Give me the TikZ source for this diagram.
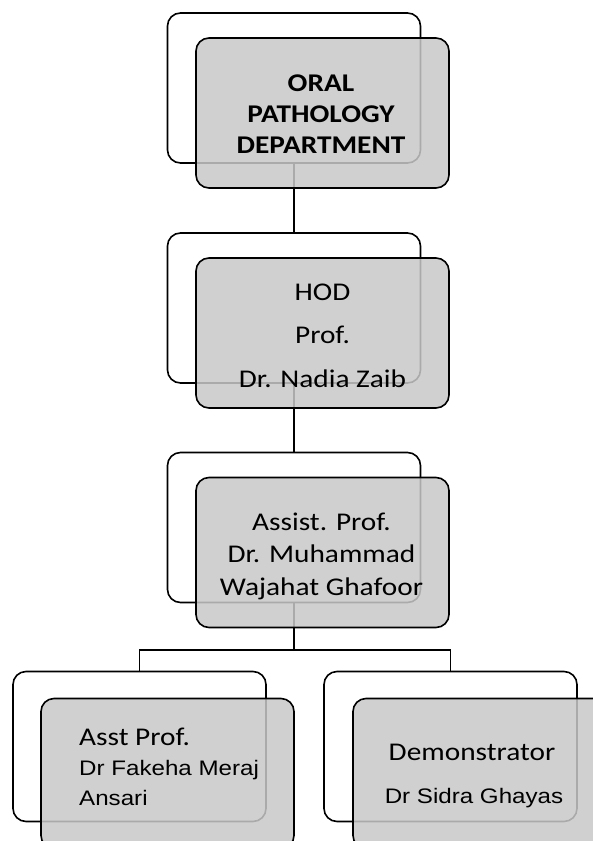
\documentclass[tikz,border=0pt]{standalone}
\usepackage{fontspec}
\newfontfamily\calfont[FakeStretch=1.15]{Carlito}
\newfontfamily\arifont[FakeStretch=1.15]{Liberation Sans}
\definecolor{cardgray}{RGB}{200,200,200}
\tikzset{
  backcard/.style={draw=black, line width=1.6pt, fill=white, rounded corners=13pt,
    minimum width=253pt, minimum height=150pt, inner sep=0pt},
  frontcard/.style={draw=black, line width=1.6pt, fill=cardgray, fill opacity=0.85,
    draw opacity=1, rounded corners=13pt,
    minimum width=253pt, minimum height=150pt, inner sep=0pt},
  link/.style={draw=black, line width=1.6pt},
  label/.style={inner sep=0pt, anchor=base, text=black, align=center},
}
\begin{document}
\begin{tikzpicture}[x=1pt,y=-1pt]
\path[use as bounding box, clip] (0,0) rectangle (593,841);

% back cards
\node[backcard] (b1) at (294,88) {};
\node[backcard] (b2) at (294,308) {};
\node[backcard] (b3) at (294,527.5) {};
\node[backcard] (b4) at (139.5,746.5) {};
\node[backcard] (b5) at (450.5,746.5) {};

% connectors between the back cards
\coordinate (j) at (294,650);
\draw[link] (b1.south) -- (b2.north);
\draw[link] (b2.south) -- (b3.north);
\draw[link] (b3.south) -- (j);
\draw[link] (j) -| (b4.north);
\draw[link] (j) -| (b5.north);

% front cards
\node[frontcard] (f1) at (322.5,113) {};
\node[frontcard] (f2) at (322.5,333) {};
\node[frontcard] (f3) at (322.5,552.5) {};
\node[frontcard] (f4) at (167.5,773.5) {};
\node[frontcard] (f5) at (479.5,773.5) {};

% labels (multi-line labels are placed by the baseline of their last line)
\node[label, font=\calfont\bfseries\fontsize{25.5}{30.6}\selectfont] (t1) at (321,153)
  {ORAL\\PATHOLOGY\\DEPARTMENT};
\node[label, font=\calfont\fontsize{25.5}{43.5}\selectfont] (t2) at (322.5,387)
  {HOD\\Prof.\\Dr. Nadia Zaib};
\node[label, font=\calfont\fontsize{25.5}{32.5}\selectfont] (t3) at (321.5,595)
  {Assist. Prof.\\Dr. Muhammad\\Wajahat Ghafoor};
\node[label, anchor=base west, font=\calfont\fontsize{25.5}{29}\selectfont] (t4a) at (79,745)
  {Asst Prof.};
\node[label, anchor=base west, align=left, font=\arifont\fontsize{21}{30}\selectfont] (t4b) at (79,805)
  {Dr Fakeha Meraj\\Ansari};
\node[label, font=\calfont\fontsize{25.5}{29}\selectfont] (t5a) at (472,760)
  {Demonstrator};
\node[label, font=\arifont\fontsize{21}{29}\selectfont] (t5b) at (474,803)
  {Dr Sidra Ghayas};
\end{tikzpicture}
\end{document}
